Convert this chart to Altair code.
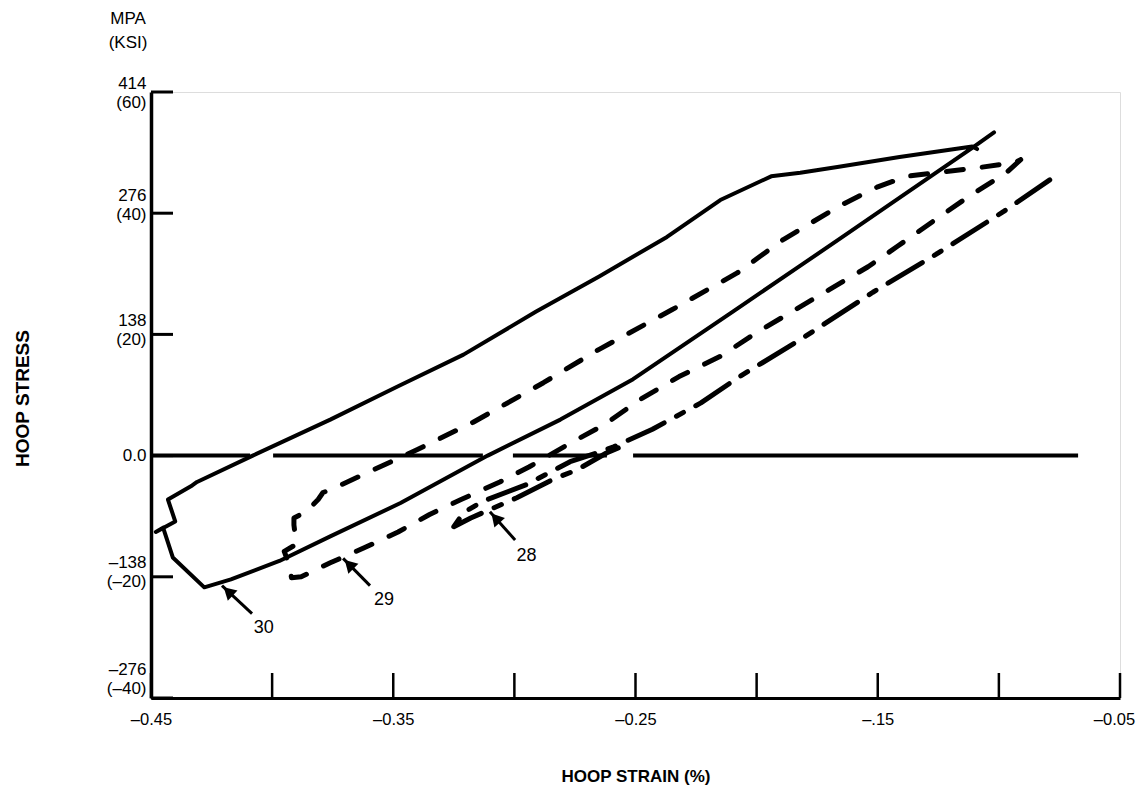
import math
import altair as alt
import pandas as pd

# ---------------- data ----------------
# Curve 30 (solid loop), path order
curve30_strain = [-0.102, -0.1107, -0.1408, -0.1656, -0.1821, -0.2098, -0.251, -0.281, -0.311, -0.347,
                  -0.376, -0.397, -0.417, -0.428, -0.441, -0.445, -0.448, -0.440, -0.443, -0.433,
                  -0.431, -0.408, -0.376, -0.348, -0.321, -0.291, -0.265, -0.237, -0.215, -0.194,
                  -0.182, -0.166, -0.141, -0.111, -0.109]
curve30_stress = [368, 351, 294, 247, 216, 164, 87, 41, 0, -54,
                  -92, -120, -141, -150, -116, -82, -87, -75, -50, -34,
                  -30, 0, 41, 79, 115, 164, 204, 249, 291, 318,
                  322, 329, 340, 352, 349]

# Curve 29 (dashed loop), path order
curve29_strain = [-0.091, -0.097, -0.113, -0.126, -0.142, -0.154, -0.170, -0.186, -0.200, -0.215,
                  -0.232, -0.248, -0.263, -0.277, -0.294, -0.306, -0.322, -0.335, -0.348, -0.362,
                  -0.376, -0.388, -0.392, -0.393, -0.395, -0.390, -0.391, -0.391, -0.386, -0.381,
                  -0.379, -0.376, -0.358, -0.340, -0.317, -0.288, -0.265, -0.235, -0.208, -0.189,
                  -0.166, -0.150, -0.138, -0.126, -0.108, -0.093, -0.091]
curve29_stress = [337, 322, 294, 269, 238, 215, 189, 163, 140, 113,
                  90, 64, 35, 14, -13, -30, -50, -67, -87, -105,
                  -122, -138, -139, -124, -109, -101, -79, -71, -64, -50,
                  -42, -39, -16, 7, 38, 83, 121, 166, 208, 246,
                  284, 306, 318, 322, 328, 334, 337]

# Curve 28 (long-short dashed, narrow loop), path order
curve28_strain = [-0.079, -0.098, -0.126, -0.152, -0.182, -0.207, -0.223, -0.243, -0.259, -0.266,
                  -0.277, -0.295, -0.313, -0.321, -0.325, -0.318, -0.299, -0.284, -0.274, -0.262,
                  -0.256]
curve28_stress = [314, 278, 229, 186, 132, 90, 60, 30, 10, 3,
                  -7, -33, -52, -65, -81, -71, -48, -27, -16, 3,
                  10]

# Zero-stress reference line (drawn in pieces, as in the original)
zero_seg_start = [-0.450, -0.3996, -0.3006, -0.251]
zero_seg_end = [-0.4091, -0.313, -0.2618, -0.0673]
zero_level = [0, 0, 0, 0]

# Axes
x_tick_values = [-0.45, -0.40, -0.35, -0.30, -0.25, -0.20, -0.15, -0.10, -0.05]
x_tick_labels = ["–0.45", "", "–0.35", "", "–0.25", "", "–.15", "", "–0.05"]
y_tick_values = [414, 276, 138, 0, -138, -276]
y_tick_mpa = ["414", "276", "138", "0.0", "–138", "–276"]
y_tick_ksi = ["(60)", "(40)", "(20)", "", "(–20)", "(–40)"]

# Curve call-outs
arrow_label = ["30", "29", "28"]
arrow_tip_strain = [-0.4207, -0.3707, -0.3101]
arrow_tip_stress = [-148, -117, -64]
arrow_tail_strain = [-0.4083, -0.3596, -0.2997]
arrow_tail_stress = [-180, -148, -96]
label_strain = [-0.4035, -0.3538, -0.2950]
label_stress = [-196, -164, -114]

# ---------------- chart ----------------
W, H = 969, 606
XDOM = [-0.45, -0.05]
YDOM = [-276, 414]
FONT = "Liberation Sans"
HEAD_LEN = 17  # arrowhead length in px

xs = alt.Scale(domain=XDOM, nice=False, zero=False)
ys = alt.Scale(domain=YDOM, nice=False, zero=False)

x_expr = " : ".join(
    f"round(datum.value*100) == {round(v*100)} ? '{lab}'" for v, lab in zip(x_tick_values, x_tick_labels)
) + " : ''"
y_parts = []
for v, a, b in zip(y_tick_values, y_tick_mpa, y_tick_ksi):
    lab = f"['{a}', '{b}']" if b else f"'{a}'"
    y_parts.append(f"datum.value == {v} ? {lab}")
y_expr = " : ".join(y_parts) + " : ''"

# two-line labels are lifted so that the pair sits around the tick
y_label_offset = {
    "condition": [
        {"test": "datum.value == 0", "value": 0},
        {"test": "datum.value == 414", "value": -9},
        {"test": "datum.value == 276", "value": -18},
        {"test": "datum.value == -276", "value": -29},
    ],
    "value": -14,
}
# last x label pulled slightly inward so it stays on the page
x_label_offset = {
    "condition": [{"test": "round(datum.value*100) == -5", "value": -6}],
    "value": 0,
}

x_axis = alt.Axis(values=x_tick_values, labelExpr=x_expr, title="HOOP STRAIN (%)",
                  grid=False, ticks=False, tickSize=0, domain=True, domainColor="black",
                  domainWidth=3, labelFont=FONT, labelFontSize=16.5, labelColor="black",
                  labelPadding=13, labelFlush=False, labelOverlap=False, labelBaseline="top",
                  labelOffset=x_label_offset,
                  titleFont=FONT, titleFontSize=17, titleFontWeight="bold", titleColor="black",
                  titleY=78, titleBaseline="middle")
y_axis = alt.Axis(values=y_tick_values, labelExpr=y_expr, title="HOOP STRESS",
                  grid=False, ticks=False, tickSize=0, domain=True, domainColor="black",
                  domainWidth=3.5, labelFont=FONT, labelFontSize=17, labelColor="black",
                  labelPadding=5, labelLineHeight=19, labelOverlap=False, labelFlush=False,
                  labelBaseline="middle", labelOffset=y_label_offset,
                  titleFont=FONT, titleFontSize=19, titleFontWeight="bold", titleColor="black",
                  titleX=-129, titleY=306, titleAngle=270, titleAlign="center",
                  titleBaseline="middle")


def X(field):
    return alt.X(field, type="quantitative", scale=xs, axis=x_axis)


def Y(field):
    return alt.Y(field, type="quantitative", scale=ys, axis=y_axis)


def path_df(strain, stress):
    return pd.DataFrame({"strain": strain, "stress": stress, "i": list(range(len(strain)))})


def curve(strain, stress, dash, width):
    kw = dict(color="black", strokeWidth=width, strokeJoin="round", strokeCap="round")
    if dash:
        kw["strokeDash"] = dash
    return alt.Chart(path_df(strain, stress)).mark_line(**kw).encode(
        x=X("strain"), y=Y("stress"), order="i:Q")


c30 = curve(curve30_strain, curve30_stress, None, 4)
c29 = curve(curve29_strain, curve29_stress, [17, 19], 5)
c28 = curve(curve28_strain, curve28_stress, [40, 14, 8, 14], 5)

zero_df = pd.DataFrame({"strain": zero_seg_start, "s1": zero_seg_end, "stress": zero_level})
zero_line = alt.Chart(zero_df).mark_rule(color="black", strokeWidth=4).encode(
    x=X("strain"), x2="s1:Q", y=Y("stress"))

xt_df = pd.DataFrame({"strain": x_tick_values})
x_ticks = alt.Chart(xt_df).mark_rule(color="black", strokeWidth=2.5).encode(
    x=X("strain"), y=alt.value(H), y2=alt.value(H - 25))
yt_df = pd.DataFrame({"stress": y_tick_values})
y_ticks = alt.Chart(yt_df).mark_rule(color="black", strokeWidth=3).encode(
    y=Y("stress"), x=alt.value(0), x2=alt.value(22))

# arrow geometry derived from tip/tail in pixel space
px_x = W / (XDOM[1] - XDOM[0])
px_y = H / (YDOM[1] - YDOM[0])
angles, head_x, head_y = [], [], []
for tx, ty, sx, sy in zip(arrow_tip_strain, arrow_tip_stress, arrow_tail_strain, arrow_tail_stress):
    dx = (tx - sx) * px_x
    dy = -(ty - sy) * px_y
    n = math.hypot(dx, dy)
    ux, uy = dx / n, dy / n
    angles.append(math.degrees(math.atan2(dx, -dy)) % 360)
    head_x.append(tx - (HEAD_LEN / 2) * ux / px_x)
    head_y.append(ty + (HEAD_LEN / 2) * uy / px_y)

arr_df = pd.DataFrame({"lab": arrow_label, "strain": arrow_tail_strain, "stress": arrow_tail_stress,
                       "tx": arrow_tip_strain, "ty": arrow_tip_stress,
                       "hx": head_x, "hy": head_y,
                       "lx": label_strain, "ly": label_stress, "ang": angles})
shafts = alt.Chart(arr_df).mark_rule(color="black", strokeWidth=3).encode(
    x=X("strain"), y=Y("stress"), x2="tx:Q", y2="ty:Q")
heads = alt.Chart(arr_df).mark_point(shape="triangle-up", filled=True, color="black",
                                     opacity=1, size=200).encode(
    x=X("hx"), y=Y("hy"), angle=alt.Angle("ang:Q", scale=None))
labels = alt.Chart(arr_df).mark_text(font=FONT, fontSize=18, color="black",
                                     align="center", baseline="middle").encode(
    x=X("lx"), y=Y("ly"), text="lab:N")

chart = alt.layer(c30, c29, c28, zero_line, x_ticks, y_ticks, shafts, heads, labels).properties(
    width=W, height=H,
    title=alt.TitleParams(text=["MPA", "(KSI)"], anchor="start", align="center", dx=-23,
                          offset=22, font=FONT, fontSize=17, fontWeight="normal",
                          lineHeight=24, color="black", frame="group"),
    autosize=alt.AutoSizeParams(type="none"),
    padding={"left": 151, "top": 92, "right": 20, "bottom": 103},
).configure_view(strokeWidth=0).configure(background="white")

chart.save("out.html", embed_options={"renderer": "svg", "actions": False})
